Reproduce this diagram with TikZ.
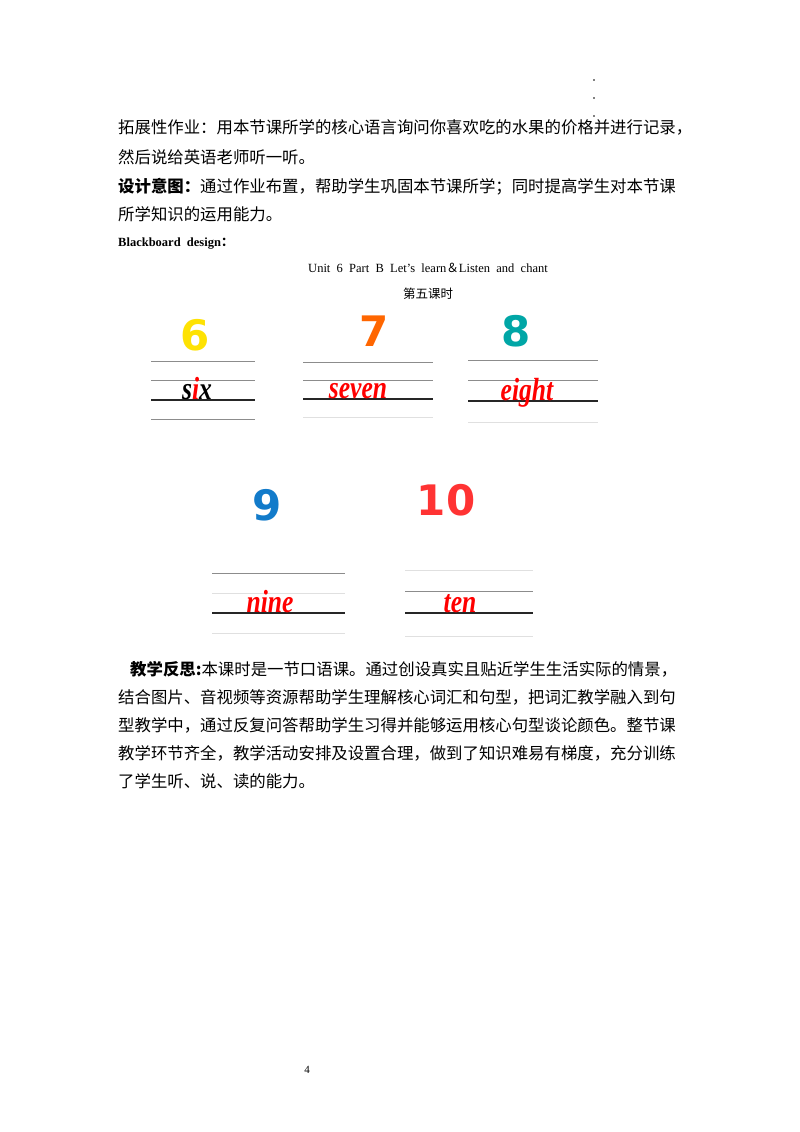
\documentclass[tikz,border=0pt]{standalone}
\usepackage{fontspec}
\setmainfont{Liberation Serif}
\newfontfamily\cjk{Noto Sans CJK SC}
\newfontfamily\numf{DejaVu Sans}
\begin{document}
\begin{tikzpicture}[x=1pt,y=-1pt,
  cn/.style={anchor=base west,inner sep=0,font=\cjk\fontsize{16.4}{18}\selectfont},
  thin/.style={draw=black!45,line width=0.8pt},
  faint/.style={draw=black!12,line width=0.8pt},
  base/.style={draw=black!85,line width=1.8pt},
  word/.style={anchor=base,inner sep=0,text=red,xscale=0.8,font=\bfseries\itshape\fontsize{32}{32}\selectfont},
  num/.style={anchor=center,inner sep=0,font=\numf\bfseries\fontsize{42}{42}\selectfont}]
\useasboundingbox (0,0) rectangle (800,1132);
\fill[white] (0,0) rectangle (800,1132);
\foreach \yy [count=\i] in {80,98,116} \node[inner sep=0.6pt,fill=black,circle] (d\i) at (594,\yy) {};
\node[cn] (t1) at (118,133) {拓展性作业：用本节课所学的核心语言询问你喜欢吃的水果的价格并进行记录，};
\node[cn] (t2) at (118,163) {然后说给英语老师听一听。};
\node[cn] (t3) at (118,192) {\bfseries 设计意图：\mdseries 通过作业布置，帮助学生巩固本节课所学；同时提高学生对本节课};
\node[cn] (t4) at (118,220) {所学知识的运用能力。};
\node[anchor=base west,inner sep=0,font=\bfseries\fontsize{12.5}{14}\selectfont] (bb) at (118,246) {Blackboard\ \ design{\cjk ：}};
\node[anchor=base,inner sep=0,font=\fontsize{12.5}{14}\selectfont] (unit) at (428,272) {Unit\ \ 6\ \ Part\ \ B\ \ Let’s\ \ learn{\cjk ＆}Listen\ \ and\ \ chant};
\node[anchor=base,inner sep=0,font=\cjk\fontsize{12.5}{14}\selectfont] (lesson) at (428,298) {第五课时};
% six
\draw[thin] (151,361) -- (255,361); \draw[thin] (151,380) -- (255,380);
\draw[base] (151,400) -- (255,400); \draw[thin] (151,419) -- (255,419);
\node[word,text=black] (w6) at (197,399) {s\textcolor{red}{i}x};
\node[num,text=yellow!85!orange] (n6) at (195,335) {6};
% seven
\draw[thin] (303,362) -- (433,362); \draw[thin] (303,380) -- (433,380);
\draw[base] (303,399) -- (433,399); \draw[faint] (303,417) -- (433,417);
\node[word] (w7) at (358,398) {seven};
\node[num,text=orange!80!red] (n7) at (374,331) {7};
% eight
\draw[thin] (468,360) -- (598,360); \draw[thin] (468,380) -- (598,380);
\draw[base] (468,401) -- (598,401); \draw[faint] (468,422) -- (598,422);
\node[word] (w8) at (527,400) {eight};
\node[num,text=teal!70!cyan] (n8) at (516,331) {8};
% nine
\draw[thin] (212,573) -- (345,573); \draw[faint] (212,593) -- (345,593);
\draw[base] (212,613) -- (345,613); \draw[faint] (212,633) -- (345,633);
\node[word] (w9) at (270,612) {nine};
\node[num,text=cyan!60!blue] (n9) at (267,505) {9};
% ten
\draw[faint] (405,570) -- (533,570); \draw[thin] (405,591) -- (533,591);
\draw[base] (405,613) -- (533,613); \draw[faint] (405,636) -- (533,636);
\node[word] (w10) at (460,612) {ten};
\node[num,text=red!80] (n10) at (446,500) {10};
% reflection
\node[cn] (r1) at (130,675) {\bfseries 教学反思:\mdseries 本课时是一节口语课。通过创设真实且贴近学生生活实际的情景，};
\node[cn] (r2) at (118,703) {结合图片、音视频等资源帮助学生理解核心词汇和句型，把词汇教学融入到句};
\node[cn] (r3) at (118,731) {型教学中，通过反复问答帮助学生习得并能够运用核心句型谈论颜色。整节课};
\node[cn] (r4) at (118,759) {教学环节齐全，教学活动安排及设置合理，做到了知识难易有梯度，充分训练};
\node[cn] (r5) at (118,787) {了学生听、说、读的能力。};
\node[anchor=base,inner sep=0,font=\fontsize{11}{12}\selectfont] (pg) at (307,1073) {4};
\end{tikzpicture}
\end{document}
